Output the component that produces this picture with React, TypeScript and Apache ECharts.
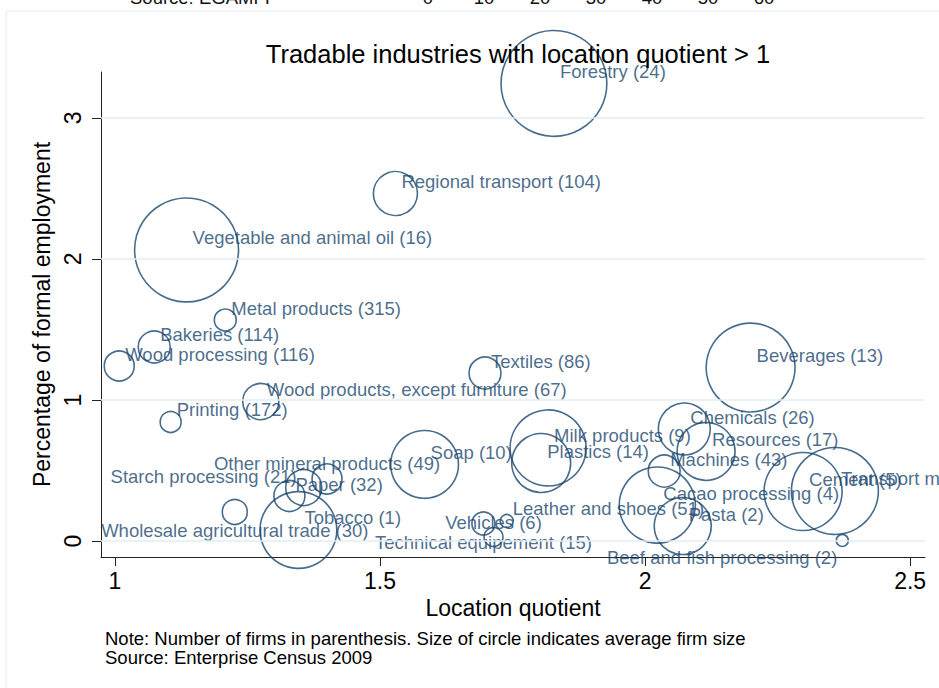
import React, { useEffect, useRef } from "react";
import * as echarts from "echarts";

// ---- Data ----
const industries = [
  "Forestry",
  "Regional transport",
  "Vegetable and animal oil",
  "Metal products",
  "Bakeries",
  "Wood processing",
  "Wood products, except furniture",
  "Printing",
  "Textiles",
  "Beverages",
  "Chemicals",
  "Milk products",
  "Resources",
  "Soap",
  "Plastics",
  "Machines",
  "Other mineral products",
  "Starch processing",
  "Paper",
  "Transport materials",
  "Cement",
  "Cacao processing",
  "Leather and shoes",
  "Pasta",
  "Tobacco",
  "Vehicles",
  "Wholesale agricultural trade",
  "Technical equipement",
  "Beef and fish processing",
];
const firms = [24, 104, 16, 315, 114, 116, 67, 172, 86, 13, 26, 9, 17, 10, 14, 43, 49, 21, 32, 3, 5, 4, 51, 2, 1, 6, 30, 15, 2];
const locationQuotient = [
  1.828, 1.529, 1.135, 1.208, 1.074, 1.008, 1.275, 1.105, 1.698, 2.199,
  2.074, 1.817, 2.115, 1.584, 1.804, 2.036, 1.4, 1.356, 1.329, 2.358,
  2.298, 2.023, 1.739, 2.071, 1.346, 1.714, 1.226, 1.695, 2.372,
];
const employmentShare = [
  3.245, 2.464, 2.064, 1.567, 1.376, 1.241, 0.989, 0.844, 1.191, 1.23,
  0.794, 0.66, 0.635, 0.543, 0.553, 0.496, 0.44, 0.379, 0.319, 0.355,
  0.351, 0.255, 0.142, 0.106, 0.078, 0.028, 0.206, 0.124, 0.004,
];
// relative average firm size (circle area)
const avgFirmSize = [
  112, 19.4, 108, 4.8, 10.2, 9, 13, 4.4, 10.2, 79,
  27, 57.8, 33.6, 46, 34.8, 10.2, 9, 13, 9.6, 75.7,
  61, 58, 1.7, 32.5, 59, 3.6, 6.25, 5.3, 1.44,
];
// marker-label clock positions (Stata style)
const labelClock = [
  3, 3, 3, 3, 3, 3, 3, 3, 3, 3,
  3, 3, 3, 3, 3, 3, 12, 9, 3, 3,
  3, 3, 3, 3, 3, 12, 6, 6, 7,
];
const xTicks = [1, 1.5, 2, 2.5];
const yTicks = [0, 1, 2, 3];
const topStripNumbers = ["0", "10", "20", "30", "40", "50", "60"];

const NAVY = "#1a476f";
const FONT = "'Liberation Sans', Arial, Helvetica, sans-serif";

function labelFor(clock: number) {
  switch (clock) {
    case 12:
      return { align: "center", offset: [0, -15] };
    case 6:
      return { align: "center", offset: [0, 19] };
    case 9:
      return { align: "right", offset: [-7, -11] };
    case 7:
      return { align: "right", offset: [-5, 17] };
    default:
      return { align: "left", offset: [6, -12] };
  }
}

export default function App() {
  const ref = useRef<HTMLDivElement>(null);

  useEffect(() => {
    if (!ref.current) return;
    const chart = echarts.init(ref.current, undefined, { renderer: "svg" });

    const data = industries.map((name, i) => {
      const lp = labelFor(labelClock[i]);
      return {
        name,
        value: [locationQuotient[i], employmentShare[i], avgFirmSize[i]],
        symbolSize: 10 * Math.sqrt(avgFirmSize[i]),
        label: {
          show: true,
          position: ["50%", "50%"],
          align: lp.align,
          verticalAlign: "middle",
          offset: lp.offset,
          formatter: `${name} (${firms[i]})`,
        },
      };
    });

    const graphics: any[] = [
      {
        type: "rect",
        shape: { x: 6, y: 11, width: 960, height: 720 },
        style: { fill: "none", stroke: "#e4ecef", lineWidth: 1 },
        silent: true,
      },
      {
        type: "text",
        x: 130,
        y: -3,
        style: { text: "Source: EGAMFI", fontSize: 18.5, fontFamily: FONT, fill: "#111", verticalAlign: "middle" },
      },
      ...topStripNumbers.map((t, i) => ({
        type: "text",
        x: 428 + i * 56,
        y: -3,
        style: { text: t, fontSize: 18.5, fontFamily: FONT, fill: "#111", align: "center", verticalAlign: "middle" },
      })),
      {
        type: "text",
        x: 105,
        y: 638,
        style: {
          text: "Note: Number of firms in parenthesis. Size of circle indicates average firm size",
          fontSize: 18.5,
          fontFamily: FONT,
          fill: "#000",
          verticalAlign: "middle",
        },
      },
      {
        type: "text",
        x: 105,
        y: 657,
        style: {
          text: "Source: Enterprise Census 2009",
          fontSize: 18.5,
          fontFamily: FONT,
          fill: "#000",
          verticalAlign: "middle",
        },
      },
    ];

    chart.setOption({
      animation: false,
      backgroundColor: "#ffffff",
      textStyle: { fontFamily: FONT },
      title: {
        text: "Tradable industries with location quotient > 1",
        left: 513,
        top: 36,
        textAlign: "center",
        textStyle: { fontSize: 25.5, fontWeight: "normal", color: "#000", fontFamily: FONT },
      },
      grid: { left: 101, right: 14, top: 72, bottom: 131, containLabel: false },
      xAxis: {
        type: "value",
        min: 0.9736,
        max: 2.528,
        name: "Location quotient",
        nameLocation: "middle",
        nameGap: 39,
        nameTextStyle: { fontSize: 23, color: "#000", fontFamily: FONT },
        axisLine: { show: true, onZero: false, lineStyle: { color: "#222", width: 1 } },
        axisTick: { show: true, length: 9, customValues: xTicks, lineStyle: { color: "#222" } },
        axisLabel: { customValues: xTicks, fontSize: 23, color: "#000", margin: 12, fontFamily: FONT },
        splitLine: { show: false },
      },
      yAxis: {
        type: "value",
        min: -0.1135,
        max: 3.326,
        name: "Percentage of formal employment",
        nameLocation: "middle",
        nameGap: 44,
        nameTextStyle: { fontSize: 23, color: "#000", fontFamily: FONT },
        axisLine: { show: true, onZero: false, lineStyle: { color: "#222", width: 1 } },
        axisTick: { show: true, length: 9, customValues: yTicks, lineStyle: { color: "#222" } },
        axisLabel: { customValues: yTicks, fontSize: 23, color: "#000", margin: 17, rotate: 90, fontFamily: FONT },
        splitLine: { show: false },
      },
      graphic: graphics,
      series: [
        {
          type: "scatter",
          clip: false,
          data,
          itemStyle: { color: "rgba(0,0,0,0)", borderColor: NAVY, borderWidth: 1.6 },
          label: { color: NAVY, fontSize: 18.5, fontFamily: FONT },
          emphasis: { disabled: true },
          markLine: {
            silent: true,
            symbol: ["none", "none"],
            label: { show: false },
            lineStyle: { color: "#e5eef0", width: 1.5, type: "solid" },
            data: yTicks.map((v) => ({ yAxis: v })),
          },
          z: 3,
        },
      ],
    });

    return () => chart.dispose();
  }, []);

  return (
    <div
      ref={ref}
      style={{ position: "fixed", left: 0, top: 0, width: 939, height: 688, background: "#fff" }}
    />
  );
}
